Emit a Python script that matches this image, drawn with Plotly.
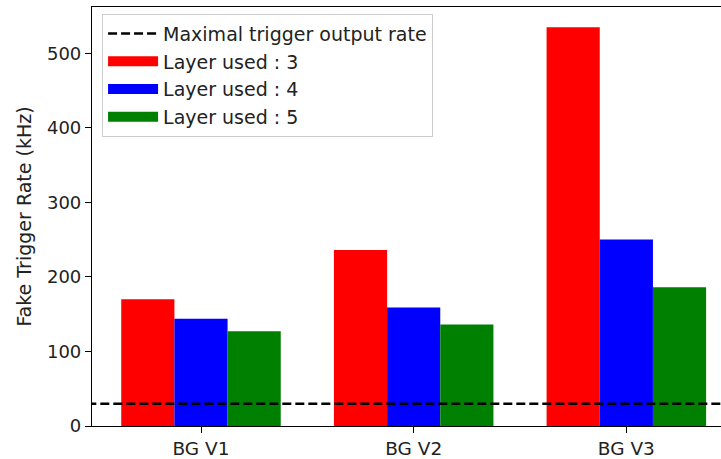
import plotly.graph_objects as go

categories = ["BG V1", "BG V2", "BG V3"]
layer3 = [170, 236, 535]
layer4 = [144, 159, 250]
layer5 = [127, 136, 186]
max_rate = 30
series_names = ["Layer used : 3", "Layer used : 4", "Layer used : 5"]
series_colors = ["#ff0000", "#0000ff", "#008000"]

xpos = list(range(len(categories)))
x_lo, x_hi = -0.5125, 2.445

fig = go.Figure()
fig.add_trace(go.Scatter(
    x=[x_lo - 1, x_hi + 1], y=[max_rate, max_rate], mode="lines",
    line=dict(color="black", width=2.5, dash="9px,4px"),
    name="Maximal trigger output rate", legendgroup="g0", cliponaxis=True))
for i, (name, vals, col) in enumerate(zip(series_names, [layer3, layer4, layer5], series_colors)):
    fig.add_trace(go.Bar(x=xpos, y=vals, name=name, showlegend=False,
                         legendgroup="g%d" % (i + 1),
                         marker=dict(color=col, line=dict(width=0))))
    # legend swatch (wide patch like the reference)
    fig.add_trace(go.Scatter(x=[None], y=[None], mode="lines", name=name,
                             legendgroup="g%d" % (i + 1),
                             line=dict(color=col, width=13)))

fig.update_layout(
    width=721, height=459,
    margin=dict(l=92, r=0, t=7, b=31),
    paper_bgcolor="white", plot_bgcolor="white",
    barmode="group", bargap=0.25, bargroupgap=0,
    font=dict(family="DejaVu Sans", size=18, color="#222222"),
    showlegend=True,
    legend=dict(x=0.016, y=0.984, xanchor="left", yanchor="top",
                bgcolor="rgba(255,255,255,0.8)", bordercolor="#cccccc", borderwidth=1,
                font=dict(family="DejaVu Sans", size=19, color="#222222"),
                tracegroupgap=0, itemwidth=50),
    xaxis=dict(range=[x_lo, x_hi], tickmode="array", tickvals=xpos, ticktext=categories,
               showgrid=False, zeroline=False, showline=True, linecolor="black", linewidth=1.2,
               mirror=True, ticks="outside", ticklen=6, tickcolor="black",
               tickfont=dict(family="DejaVu Sans", size=18.5, color="#222222")),
    yaxis=dict(range=[0, 562], tickmode="linear", tick0=0, dtick=100,
               showgrid=False, zeroline=False, showline=True, linecolor="black", linewidth=1.2,
               ticks="outside", ticklen=6, tickcolor="black",
               tickfont=dict(family="DejaVu Sans", size=18, color="#222222"),
               title=dict(text="Fake Trigger Rate (kHz)", standoff=10,
                          font=dict(family="DejaVu Sans", size=19, color="#222222"))),
)
fig.write_html("out.html")
